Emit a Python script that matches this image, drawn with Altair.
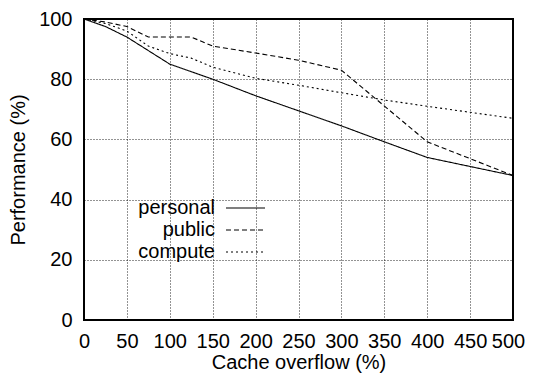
import altair as alt
import pandas as pd

x_vals = [0, 25, 50, 75, 100, 125, 150, 200, 250, 300, 350, 400, 450, 500]
personal = [100, 97.5, 94, 89.5, 85, 82.5, 80, 74.5, 69.5, 64.5, 59.2, 54, 51, 48]
compute = [100, 98.5, 96, 91, 88.5, 87, 84, 80.3, 78, 75.5, 73.1, 71, 69, 67]
public_x = [0, 25, 50, 75, 100, 125, 150, 200, 250, 300, 400, 500]
public = [100, 99, 97.5, 94, 94, 94, 91, 88.7, 86.3, 83, 59.2, 48]

series = ["personal", "public", "compute"]
dashes = [[1, 0], [5, 3], [2, 3]]

rows = []
for x, y in zip(x_vals, personal):
    rows.append({"x": x, "y": y, "s": "personal"})
for x, y in zip(public_x, public):
    rows.append({"x": x, "y": y, "s": "public"})
for x, y in zip(x_vals, compute):
    rows.append({"x": x, "y": y, "s": "compute"})
df = pd.DataFrame(rows)

FONT = "Liberation Sans"

chart = alt.Chart(df).mark_line(color="black", strokeWidth=1.1).encode(
    x=alt.X("x:Q", scale=alt.Scale(domain=[0, 500], nice=False),
            axis=alt.Axis(values=list(range(0, 501, 50)), title="Cache overflow (%)",
                          labelOverlap=False, labelFlush=False, labelBound=False,
                          labelOffset={"condition": {"test": "datum.value == 500", "value": -5}, "value": 0})),
    y=alt.Y("y:Q", scale=alt.Scale(domain=[0, 100], nice=False),
            axis=alt.Axis(values=list(range(0, 101, 20)), title="Performance (%)",
                          labelOverlap=False, labelFlush=False)),
    strokeDash=alt.StrokeDash("s:N", scale=alt.Scale(domain=series, range=dashes),
                              legend=alt.Legend(title=None, orient="none", legendX=106, legendY=179,
                                                symbolType="M4,0H10", symbolSize=169,
                                                symbolStrokeColor="black", symbolStrokeWidth=1.1,
                                                labelAlign="right", labelOffset=5,
                                                labelFont=FONT, labelFontSize=20, labelColor="black",
                                                rowPadding=2, padding=0)),
    detail="s:N",
).properties(
    width=429, height=301,
    autosize=alt.AutoSizeParams(type="none"),
    padding={"left": 76, "top": 11, "right": 12, "bottom": 53},
).configure_view(
    stroke="black", strokeWidth=2
).configure_axis(
    domain=False,
    grid=True, gridColor="black", gridDash=[1, 2], gridWidth=1, gridOpacity=0.85,
    ticks=False,
    labelFont=FONT, labelFontSize=20, labelColor="black",
    titleFont=FONT, titleFontSize=20, titleColor="black", titleFontWeight="normal",
).configure_axisX(
    labelPadding=11, titlePadding=1
).configure_axisY(
    labelPadding=12, titlePadding=10
)

chart.save("out.html", embed_options={"renderer": "svg", "actions": False})
